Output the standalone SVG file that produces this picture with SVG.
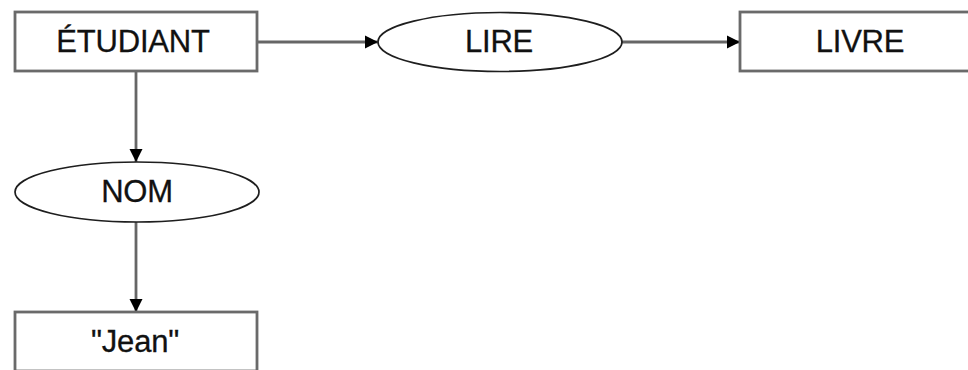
<svg xmlns="http://www.w3.org/2000/svg" width="968" height="370" viewBox="0 0 968 370">
<style>
.box{fill:#fff;stroke:#6a6a6a;stroke-width:2.8}
.ell{fill:#fff;stroke:#1e1e1e;stroke-width:1.7}
.lbl{font-family:"Liberation Sans",Arial,sans-serif;font-size:31px;fill:#111;text-anchor:middle;letter-spacing:-0.2px;stroke:#111;stroke-width:0.3}
.edge{fill:none;stroke:#666;stroke-width:2.8}
</style>
<defs>
<marker id="arr" markerUnits="userSpaceOnUse" markerWidth="14" markerHeight="14" refX="13" refY="7" orient="auto">
<path d="M0,0.5 L13,7 L0,13.5 z" fill="#000"/>
</marker>
</defs>
<rect width="968" height="370" fill="#fff"/>
<g id="connectors">
<line class="edge" x1="257" y1="42" x2="378" y2="42" marker-end="url(#arr)"/>
<line class="edge" x1="622" y1="42" x2="740" y2="42" marker-end="url(#arr)"/>
<line class="edge" x1="136" y1="71" x2="136" y2="162" marker-end="url(#arr)"/>
<line class="edge" x1="136" y1="222" x2="136" y2="312" marker-end="url(#arr)"/>
</g>
<g id="etudiant">
<rect class="box" x="15" y="12" width="242" height="59"/>
<text class="lbl" x="133" y="52">ÉTUDIANT</text>
</g>
<g id="lire">
<ellipse class="ell" cx="500" cy="42" rx="122" ry="29.5"/>
<text class="lbl" x="499" y="52">LIRE</text>
</g>
<g id="livre">
<rect class="box" x="740" y="12" width="242" height="59"/>
<text class="lbl" x="860" y="52">LIVRE</text>
</g>
<g id="nom">
<ellipse class="ell" cx="137" cy="192" rx="122" ry="30"/>
<text class="lbl" x="137" y="202">NOM</text>
</g>
<g id="jean">
<rect class="box" x="15" y="312" width="242" height="59"/>
<text class="lbl" x="135" y="352">"Jean"</text>
</g>
</svg>
